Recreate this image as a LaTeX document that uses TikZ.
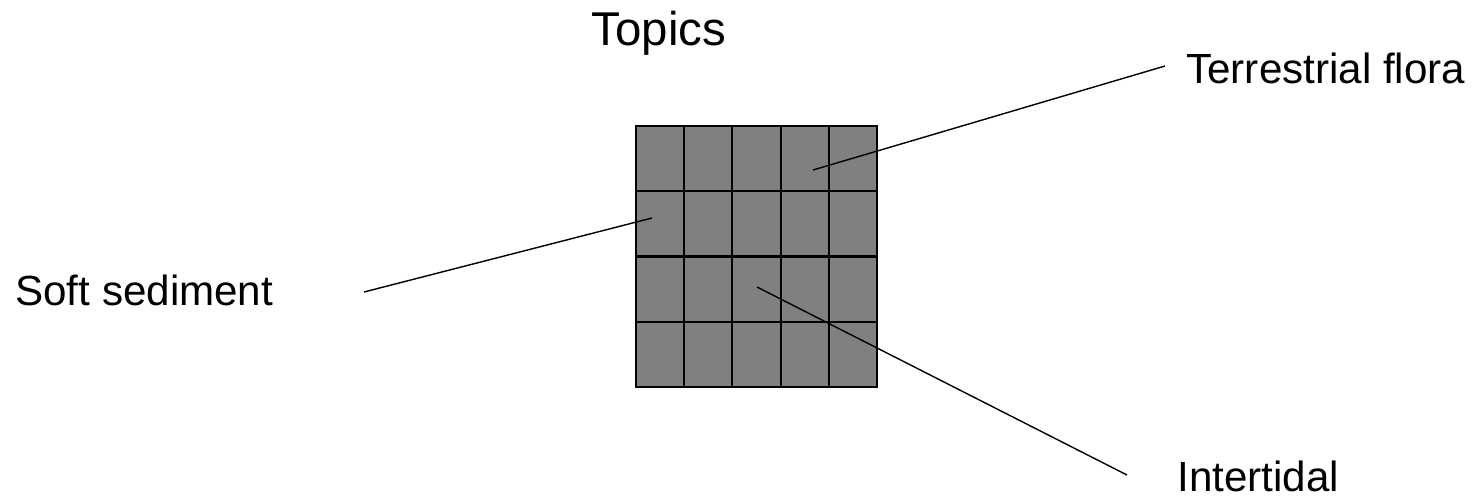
\documentclass[tikz,border=0pt]{standalone}
\usepackage{fontspec}
\setmainfont{Liberation Sans}

\begin{document}
\begin{tikzpicture}[x=0.02cm, y=-0.02cm,
cell/.style = {draw, fill=black!50, line width=1.2pt,
            minimum width=0.964cm, minimum height=1.305cm,
            inner sep=0pt, outer sep=0pt, anchor=north west},
lbl/.style = {font=\fontsize{24}{28}\selectfont, inner sep=0pt},
link/.style = {black, line width=0.8pt}
                ]
    \useasboundingbox (0,0) rectangle (1481,498);
    \def\gx{636}
    \def\gy{126}
    \def\w{48.2}
    \def\h{65.25}
    % 5 x 4 grid of cells
    \foreach \c in {0,...,4}
        \foreach \r in {0,...,3}
            \node[cell] at (\gx+\c*\w,\gy+\r*\h) (c\c\r) {};
    \node[lbl, font=\fontsize{27}{32}\selectfont, anchor=base] at (659,45) (topics) {Topics};
    \node[lbl, anchor=base west] at (15,305) (soft) {Soft sediment};
    \node[lbl, anchor=base west] at (1186,83) (terr) {Terrestrial flora};
    \node[lbl, anchor=base west] at (1177,491) (inter) {Intertidal};
    % line ends
    \coordinate (softend) at (364,292);
    \coordinate (terrend) at (1165,66);
    \coordinate (interend) at (1127,475);
    \coordinate (softcell) at (652,218);
    \coordinate (terrcell) at (813,170);
    \coordinate (intercell) at (757,287);
    \draw [link] (softend) -- (softcell);
    \draw [link] (terrend) -- (terrcell);
    \draw [link] (interend) -- (intercell);
\end{tikzpicture}
\end{document}
